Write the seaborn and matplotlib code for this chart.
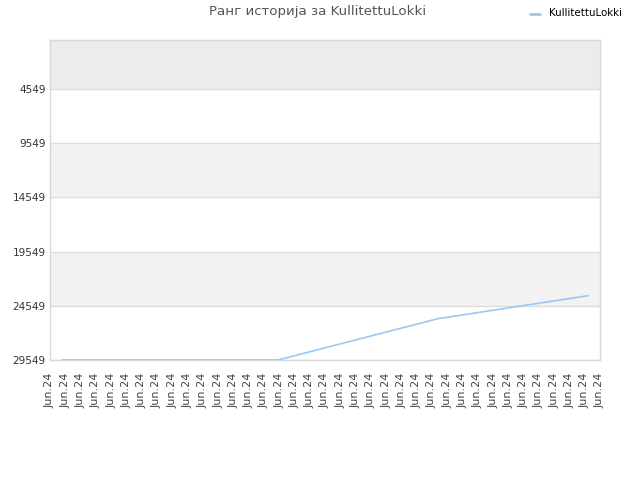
import matplotlib
matplotlib.use('Agg')
import matplotlib.pyplot as plt
import seaborn as sns
import pandas as pd

# 데이터
player = 'KullitettuLokki'
x_pos = [0.79, 14.92, 25.39, 35.21]
rank = [29549, 29549, 25739, 23617]
tick_labels = ['Jun.24'] * 37
y_ticks = [4549, 9549, 14549, 19549, 24549, 29549]

df = pd.DataFrame({'x': x_pos, 'rank': rank, 'player': player})

sns.set_style('white')
plt.rcParams['font.family'] = ['DejaVu Sans']

fig = plt.figure(figsize=(6.4, 4.8), dpi=100)
ax = fig.add_axes([50 / 640, 1 - 360 / 480, 550 / 640, 320 / 480])

# 가로 밴드
band_colors = ['#ececec', '#ffffff', '#f2f2f2', '#ffffff', '#f2f2f2', '#ffffff']
edges = [29] + y_ticks
for i in range(len(band_colors)):
    ax.axhspan(edges[i], edges[i + 1], color=band_colors[i], zorder=0, lw=0)
for yt in y_ticks:
    ax.axhline(yt, color='#dddddd', lw=1, zorder=1)

sns.lineplot(data=df, x='x', y='rank', hue='player', palette=['#99c8f5'],
             lw=1.2, ax=ax, legend=False, zorder=3)

ax.set_xlim(0, 36)
ax.set_ylim(29549, 29)
ax.set_xticks(range(37))
ax.set_xticklabels(tick_labels, rotation=90, fontsize=8, color='#444444')
ax.set_yticks(y_ticks)
ax.set_yticklabels([str(v) for v in y_ticks], fontsize=7.5, color='#333333')
ax.tick_params(axis='x', length=0, pad=9)
ax.tick_params(axis='y', length=0, pad=3)
ax.set_xlabel('')
ax.set_ylabel('')
for s in ax.spines.values():
    s.set_color('#d8d8d8')
    s.set_linewidth(1)

fig.text(318 / 640, 1 - 12 / 480, 'Ранг историја за KullitettuLokki',
         ha='center', va='center', fontsize=9.6, color='#555555')
fig.lines.append(plt.Line2D([530 / 640, 540 / 640], [1 - 14 / 480, 1 - 14 / 480],
                            transform=fig.transFigure, color='#99c8f5', lw=2))
fig.text(549 / 640, 1 - 13 / 480, player, ha='left', va='center',
         fontsize=7.4, color='#000000')

fig.savefig('out.png', dpi=100)
